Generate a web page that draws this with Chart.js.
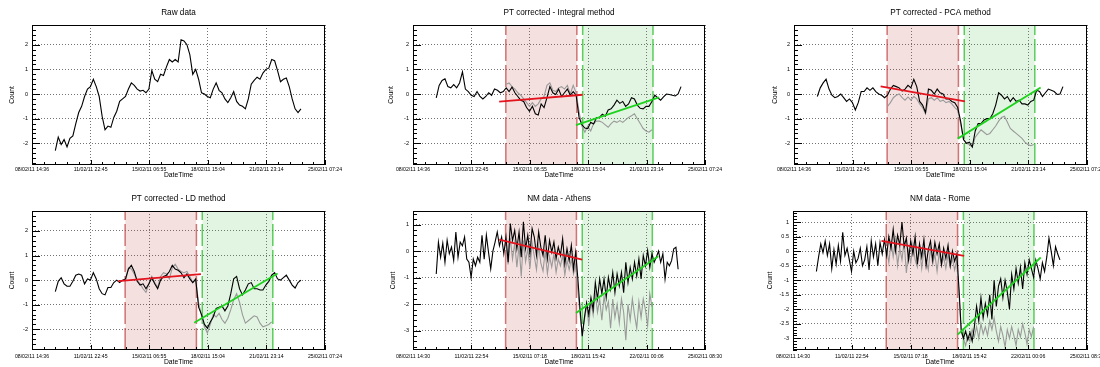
<!DOCTYPE html>
<html>
<head>
<meta charset="utf-8">
<title>Count rate - PT corrections</title>
<script src="https://cdn.jsdelivr.net/npm/chart.js@4.4.0/dist/chart.umd.min.js"></script>
<style>
  html, body { margin: 0; padding: 0; background: #fff; width: 1100px; height: 367px; overflow: hidden; }
  canvas { position: absolute; }
</style>
</head>
<body>
<canvas id="c-raw"></canvas>
<canvas id="c-integral"></canvas>
<canvas id="c-pca"></canvas>
<canvas id="c-ld"></canvas>
<canvas id="c-athens"></canvas>
<canvas id="c-rome"></canvas>
<script>
// times are hours since 08/02/11 00:00
const TICKS_PT = [14.6, 94.76, 174.92, 255.08, 335.24, 415.4];
const TICK_LABELS_PT = ['08/02/11 14:36', '11/02/11 22:45', '15/02/11 06:55', '18/02/11 15:04', '21/02/11 23:14', '25/02/11 07:24'];
const TICKS_NM = [14.5, 94.9, 175.3, 255.7, 336.1, 416.5];
const TICK_LABELS_NM = ['08/02/11 14:30', '11/02/11 22:54', '15/02/11 07:18', '18/02/11 15:42', '22/02/11 00:06', '25/02/11 08:30'];

const Y_TICKS_PT = [-2, -1, 0, 1, 2];
const Y_TICKS_ATHENS = [-3, -2, -1, 0, 1];
const Y_TICKS_ROME = [-3, -2.5, -2, -1.5, -1, -0.5, 0, 0.5, 1];

const Y_RANGE_PT = [-2.88, 2.8];
const Y_RANGE_LD = [-2.84, 2.81];
const Y_RANGE_ATHENS = [-3.72, 1.51];
const Y_RANGE_ROME = [-3.4, 1.38];

// pre-decrease window and recovery window
const PRE_WINDOW = [142, 239.5];
const REC_WINDOW = [247.5, 344];

// sampling of the stored series
const SERIES_START = 46.5;
const GREY_START = 142.5;
const PT_STEP = 4;
const NM_STEP = 3;

const RAW_COUNT = [-2.3, -1.75, -2.05, -1.85, -2.15, -1.8, -1.7, -1.2, -0.75, -0.5, -0.1, 0.2, 0.3, 0.6, 0.3, -0.1,
  -0.9, -1.45, -1.3, -1.35, -0.95, -0.7, -0.3, -0.2, -0.1, 0.2, 0.45, 0.35, 0.2, 0.12, 0.15, 0.05,
  0.2, 0.95, 0.6, 0.5, 0.8, 0.75, 1.1, 1.4, 1.3, 1.4, 1.3, 2.2, 2.15, 2.0, 1.6, 0.8,
  1.0, 0.6, 0.05, 0.0, -0.1, -0.15, 0.2, 0.45, 0.15, 0.05, -0.2, -0.35, -0.15, 0.1, -0.3, -0.45,
  -0.5, -0.6, -0.2, 0.4, 0.55, 0.68, 0.6, 0.85, 1.0, 1.05, 1.4, 1.35, 0.95, 0.5, 0.6, 0.65,
  0.3, -0.2, -0.6, -0.75, -0.6];

const INTEGRAL_COUNT = [-0.16, 0.35, 0.55, 0.62, 0.3, 0.25, 0.38, 0.25, 0.45, 0.9, 0.2, 0.1, -0.05, -0.1, 0.1, -0.1,
  -0.2, -0.1, 0.05, -0.05, 0.2, 0.15, 0.05, 0.1, 0.25, 0.1, 0.28, 0.05, -0.1, -0.25, -0.3, -0.55,
  -0.7, -0.5, -0.8, -0.85, -0.4, -0.55, -0.15, 0.3, 0.05, -0.02, 0.2, -0.1, 0.05, 0.2, -0.05, 0.1,
  -0.05, -0.95, -1.25, -1.38, -1.4, -1.15, -1.22, -0.95, -0.95, -0.82, -0.9, -0.65, -0.6, -0.45, -0.25, -0.38,
  -0.3, -0.5, -0.4, -0.15, -0.2, -0.45, -0.58, -0.6, -0.5, -0.5, -0.3, -0.05, -0.15, -0.25, -0.12, 0.0,
  -0.02, -0.05, -0.08, 0.0, 0.3];
const INTEGRAL_GREY = [0.4, 0.45, 0.3, 0.2, 0.05, -0.05, -0.2, -0.35, -0.5, -0.35, -0.5, -0.4, -0.2, -0.1, 0.35, 0.45,
  0.15, 0.1, 0.25, 0.3, 0.2, 0.35, 0.0, 0.35, 0.05, -0.7, -1.3, -1.55, -1.3, -1.5, -1.2, -1.1,
  -1.1, -1.15, -1.25, -1.35, -1.2, -1.1, -1.15, -1.08, -1.15, -1.05, -0.95, -0.88, -0.8, -1.0, -1.2, -1.4,
  -1.5, -1.55, -1.45];
const INTEGRAL_FIT_PRE = [[132.9, -0.31], [247.4, -0.03]];
const INTEGRAL_FIT_REC = [[238.2, -1.26], [352.5, -0.14]];

const PCA_COUNT = [-0.1, 0.25, 0.45, 0.6, 0.2, -0.05, -0.15, -0.1, 0.0, -0.15, -0.3, -0.2, -0.35, -0.65, -0.35, 0.1,
  0.1, 0.25, 0.15, 0.25, 0.1, 0.0, -0.05, -0.15, -0.05, 0.2, 0.35, 0.3, 0.25, 0.12, 0.2, 0.35,
  0.25, 0.6, 0.3, -0.3, -0.45, -0.75, 0.2, 0.15, 0.0, 0.2, 0.05, 0.0, -0.2, -0.2, -0.3, -0.35,
  -0.55, -1.1, -1.85, -2.0, -1.95, -2.15, -1.5, -1.2, -1.2, -1.05, -1.0, -1.0, -0.8, -0.45, 0.05, -0.05,
  -0.2, -0.1, -0.3, -0.15, -0.3, -0.25, -0.4, -0.4, -0.45, -0.3, -0.25, 0.15, 0.1, -0.1, 0.05, 0.2,
  0.15, 0.1, -0.02, 0.0, 0.3];
const PCA_GREY = [-0.5, -0.35, -0.15, -0.05, 0.0, -0.15, -0.25, -0.12, -0.25, -0.1, -0.2, -0.4, -0.55, -0.8, -0.2, -0.15,
  -0.25, -0.15, -0.3, -0.25, -0.35, -0.3, -0.4, -0.55, -0.65, -1.2, -1.85, -2.0, -2.05, -2.15, -1.75, -1.6,
  -1.45, -1.55, -1.65, -1.6, -1.45, -1.3, -1.1, -0.95, -0.9, -1.15, -1.4, -1.5, -1.6, -1.7, -1.8, -1.95,
  -2.05, -2.1, -2.05];
const PCA_FIT_PRE = [[133.1, 0.31], [248.4, -0.3]];
const PCA_FIT_REC = [[238.5, -1.81], [352, 0.26]];

const LD_COUNT = [-0.47, -0.05, 0.1, -0.15, -0.25, -0.25, -0.05, 0.2, 0.25, 0.2, -0.15, 0.05, 0.0, 0.3, 0.05, -0.35,
  -0.55, -0.6, -0.3, -0.3, -0.1, 0.0, -0.1, 0.0, 0.05, 0.45, 0.6, 0.35, -0.05, -0.2, -0.15, -0.35,
  -0.15, 0.1, -0.15, -0.35, 0.0, 0.15, 0.2, 0.35, 0.6, 0.45, 0.4, 0.3, 0.1, 0.25, 0.05, -0.1,
  0.05, -1.1, -1.4, -1.8, -1.95, -1.7, -1.5, -1.15, -1.1, -1.05, -1.25, -1.05, -0.55, 0.05, 0.15, -0.35,
  -0.6, -0.4, -0.15, -0.1, -0.35, -0.35, -0.4, -0.4, -0.2, -0.05, 0.2, 0.3, 0.05, 0.0, 0.1, 0.2,
  0.0, -0.2, -0.32, -0.1, 0.0];
const LD_GREY = [-0.05, 0.5, 0.45, 0.25, 0.0, -0.15, -0.35, -0.5, -0.15, 0.15, -0.1, -0.3, 0.15, 0.3, 0.25, 0.05,
  0.5, 0.65, 0.45, 0.35, 0.3, 0.35, 0.15, -0.1, 0.0, -0.9, -1.45, -1.9, -2.15, -1.8, -1.4, -1.5,
  -1.35, -1.6, -1.75, -1.55, -1.2, -0.8, -0.55, -0.9, -1.4, -1.75, -1.65, -1.55, -1.45, -1.5, -1.75, -1.9,
  -1.85, -1.8, -1.7];
const LD_FIT_PRE = [[132.6, -0.04], [245.7, 0.24]];
const LD_FIT_REC = [[236.5, -1.73], [350.5, 0.27]];

const ATHENS_COUNT = [-0.86, 0.34, -0.23, 0.3, -0.42, 0.41, -0.1, 0.15, -0.35, 0.72, -0.23, 0.34, 0.2, 0.53, -0.3, -0.42,
  -0.99, -0.3, -0.55, -0.23, -0.42, 0.6, -0.3, 0.6, -0.05, -0.67, 0.0, 0.34, 0.72, 0.2, 0.53, -0.1,
  0.53, -0.42, 1.04, 0.4, 0.78, 0.09, 0.72, -0.23, 1.1, 0.09, 0.6, -0.1, 0.85, 0.53, -0.16, 0.72,
  0.15, -0.16, 0.6, -0.29, 0.4, -0.04, 0.34, -0.29, 0.15, -0.17, 0.47, -0.48, 0.09, -0.36, 0.22, -0.67,
  -0.04, -1.05, -2.2, -3.2, -2.5, -1.95, -2.4, -1.75, -2.2, -1.18, -1.8, -1.05, -1.6, -1.05, -1.75, -0.99,
  -1.44, -0.8, -1.56, -0.86, -1.31, -0.8, -1.56, -0.42, -1.18, -0.61, -1.05, -0.42, -0.93, -0.29, -1.05, -0.16,
  -0.55, 0.03, -0.61, -0.1, -0.42, -0.23, 0.0, -0.42, -0.1, -1.05, -0.42, -0.55, -0.36, 0.09, 0.15, -0.68];
const ATHENS_GREY = [0.2, -0.5, 0.5, -0.3, 0.3, -0.6, 0.2, -0.95, 0.4, -0.4, 0.1, -0.65, 0.3, -0.2, -0.7, 0.2,
  -0.45, -0.75, 0.0, -0.85, -0.2, -0.6, -0.1, -0.8, -0.3, -0.55, -0.15, -0.9, -0.35, -0.7, -0.3, -0.85,
  -0.5, -1.5, -2.4, -3.1, -2.6, -2.0, -2.8, -1.9, -2.4, -1.6, -2.3, -1.8, -2.6, -1.7, -2.2, -1.9,
  -2.9, -1.8, -2.5, -2.0, -2.7, -1.8, -2.3, -3.35, -2.0, -2.6, -1.8, -2.4, -2.9, -1.9, -2.5, -1.8,
  -2.2, -2.8, -1.6, -2.1];
const ATHENS_FIT_PRE = [[133.3, 0.43], [247.5, -0.32]];
const ATHENS_FIT_REC = [[238.9, -2.33], [352.2, -0.19]];

const ROME_COUNT = [-0.7, -0.2, 0.25, -0.05, 0.35, -0.15, 0.25, -0.6, 0.05, -0.45, 0.2, -0.35, 0.65, -0.15, 0.1, -0.3,
  -0.7, 0.0, -0.4, -0.25, 0.1, -0.5, -0.3, 0.15, -0.65, 0.35, -0.2, 0.25, -0.5, 0.3, -0.1, 0.4,
  -0.15, 0.5, 0.1, 0.75, 0.0, 0.55, 0.2, 1.0, 0.15, 0.45, -0.3, 0.35, -0.1, 0.5, -0.45, 0.25,
  -0.2, 0.4, -0.5, 0.05, 0.35, -0.3, 0.3, -0.1, 0.25, -0.45, 0.1, -0.25, 0.2, -0.5, 0.0, -0.35,
  -0.1, -1.3, -2.7, -3.0, -2.75, -3.05, -2.8, -3.1, -2.6, -1.9, -2.4, -1.6, -2.3, -1.8, -2.2, -1.5,
  -2.35, -1.0, -1.9, -1.2, -0.95, -1.6, -1.0, -1.4, -2.0, -0.8, -1.3, -0.6, -1.1, -0.55, -1.3, -0.4,
  -0.8, -0.3, -0.6, -0.9, -0.3, -0.6, -0.95, -0.4, -0.7, -0.2, 0.45, 0.0, -0.5, 0.15, -0.1, -0.3];
const ROME_GREY = [0.1, -0.4, 0.3, -0.2, 0.4, -0.5, 0.1, -0.3, 0.35, -0.75, 0.0, -0.4, 0.25, -0.3, -0.55, 0.1,
  -0.6, 0.05, -0.3, -0.65, 0.1, -0.45, -0.1, -0.7, -0.05, -0.5, -0.2, -0.6, -0.1, -0.55, -0.25, -0.65,
  -0.3, -1.5, -2.8, -3.0, -3.25, -2.9, -3.1, -2.7, -2.95, -2.6, -3.0, -2.5, -2.85, -2.6, -2.9, -2.4,
  -2.7, -2.3, -2.75, -3.1, -2.6, -2.9, -3.3, -2.7, -3.0, -2.6, -2.9, -3.25, -2.7, -2.95, -2.5, -2.8,
  -3.2, -2.7, -2.95, -2.6];
const ROME_FIT_PRE = [[135.5, 0.35], [248.5, -0.16]];
const ROME_FIT_REC = [[239.5, -2.87], [353.2, -0.22]];

// ---- styling ----
const FONT = "'Liberation Sans', Arial, Helvetica, sans-serif";
const GRID_COLOR = 'rgba(0, 0, 0, 0.55)';
const PRE_FILL = 'rgba(190, 60, 60, 0.16)';
const REC_FILL = 'rgba(60, 190, 60, 0.15)';
const PRE_EDGE = 'rgba(190, 60, 60, 0.7)';
const REC_EDGE = 'rgba(40, 190, 40, 0.75)';
const PRE_FIT_COLOR = '#e3141e';
const REC_FIT_COLOR = '#1ed21e';
const GREY_COLOR = '#9a9a9a';

// space around each plot frame inside its canvas
const LEFT_W = 32, TOP_H = 25, BOTTOM_H = 18, RIGHT_W = 42;

Chart.defaults.font.family = FONT;

const PANELS = [
  { id: 'c-raw', title: 'Raw data', area: { x: 32, y: 25, w: 293, h: 140 }, countGap: 20.3, row: 0,
    ticks: TICKS_PT, labels: TICK_LABELS_PT, yTicks: Y_TICKS_PT, yRange: Y_RANGE_PT, step: PT_STEP, count: RAW_COUNT },
  { id: 'c-integral', title: 'PT corrected - Integral method', area: { x: 413, y: 25, w: 292, h: 140 }, countGap: 22.3, row: 0,
    ticks: TICKS_PT, labels: TICK_LABELS_PT, yTicks: Y_TICKS_PT, yRange: Y_RANGE_PT, step: PT_STEP,
    count: INTEGRAL_COUNT, grey: INTEGRAL_GREY, fitPre: INTEGRAL_FIT_PRE, fitRec: INTEGRAL_FIT_REC },
  { id: 'c-pca', title: 'PT corrected - PCA method', area: { x: 794, y: 25, w: 293, h: 140 }, countGap: 19, row: 0,
    ticks: TICKS_PT, labels: TICK_LABELS_PT, yTicks: Y_TICKS_PT, yRange: Y_RANGE_PT, step: PT_STEP,
    count: PCA_COUNT, grey: PCA_GREY, fitPre: PCA_FIT_PRE, fitRec: PCA_FIT_REC },
  { id: 'c-ld', title: 'PT corrected - LD method', area: { x: 32, y: 211, w: 293, h: 139 }, countGap: 20.3, row: 1,
    ticks: TICKS_PT, labels: TICK_LABELS_PT, yTicks: Y_TICKS_PT, yRange: Y_RANGE_LD, step: PT_STEP,
    count: LD_COUNT, grey: LD_GREY, fitPre: LD_FIT_PRE, fitRec: LD_FIT_REC },
  { id: 'c-athens', title: 'NM data - Athens', area: { x: 413, y: 211, w: 292, h: 139 }, countGap: 20.3, row: 1,
    ticks: TICKS_NM, labels: TICK_LABELS_NM, yTicks: Y_TICKS_ATHENS, yRange: Y_RANGE_ATHENS, step: NM_STEP,
    count: ATHENS_COUNT, grey: ATHENS_GREY, fitPre: ATHENS_FIT_PRE, fitRec: ATHENS_FIT_REC },
  { id: 'c-rome', title: 'NM data - Rome', area: { x: 793, y: 211, w: 294, h: 139 }, countGap: 23, row: 1,
    ticks: TICKS_NM, labels: TICK_LABELS_NM, yTicks: Y_TICKS_ROME, yRange: Y_RANGE_ROME, step: NM_STEP,
    count: ROME_COUNT, grey: ROME_GREY, fitPre: ROME_FIT_PRE, fitRec: ROME_FIT_REC }
];

function series(start, step, values) {
  return values.map((v, i) => ({ x: start + i * step, y: v }));
}

function pairs(list) {
  return list.map(([x, y]) => ({ x, y }));
}

// major + minor (5 subdivisions) tick positions within [min, max]
function tickMarks(majors, min, max) {
  const sub = (majors[1] - majors[0]) / 5;
  const i0 = Math.ceil((min - majors[0]) / sub - 1e-6);
  const i1 = Math.floor((max - majors[0]) / sub + 1e-6);
  const out = [];
  for (let i = i0; i <= i1; i++) {
    out.push([majors[0] + i * sub, ((i % 5) + 5) % 5 === 0]);
  }
  return out;
}

// ROOT style frame with ticks pointing into the plot
const frameTicks = {
  id: 'frameTicks',
  afterDraw(chart) {
    const { ctx, chartArea: a, scales: { x, y } } = chart;
    ctx.save();
    ctx.strokeStyle = '#000';
    ctx.lineWidth = 1;
    ctx.beginPath();
    tickMarks(y.ticks.map(t => t.value), y.min, y.max).forEach(([v, major]) => {
      const py = Math.round(y.getPixelForValue(v)) + 0.5;
      ctx.moveTo(a.left, py);
      ctx.lineTo(a.left + (major ? 8 : 4), py);
    });
    tickMarks(x.ticks.map(t => t.value), x.min, x.max).forEach(([v, major]) => {
      const px = Math.round(x.getPixelForValue(v)) + 0.5;
      ctx.moveTo(px, a.bottom);
      ctx.lineTo(px, a.bottom - (major ? 5 : 3));
    });
    ctx.stroke();
    ctx.strokeRect(Math.round(a.left) + 0.5, Math.round(a.top) + 0.5, Math.round(a.width) - 1, Math.round(a.height) - 1);
    ctx.restore();
  }
};

function buildDatasets(p) {
  const [yMin, yMax] = p.yRange;
  const sets = [];
  const line = { pointRadius: 0, tension: 0, fill: false };
  if (p.grey) {
    [[PRE_WINDOW, PRE_FILL, PRE_EDGE], [REC_WINDOW, REC_FILL, REC_EDGE]].forEach(([win, fill, edge]) => {
      sets.push({ ...line, data: win.map(x => ({ x, y: yMax })), fill: 'start', backgroundColor: fill, borderWidth: 0, order: 6 });
      win.forEach(x => {
        sets.push({ ...line, data: [{ x, y: yMin }, { x, y: yMax }], borderColor: edge, borderWidth: 1.5, borderDash: [22, 4], order: 5 });
      });
    });
    sets.push({ ...line, data: series(GREY_START, p.step, p.grey), borderColor: GREY_COLOR, borderWidth: 1.1, order: 3 });
  }
  sets.push({ ...line, data: series(SERIES_START, p.step, p.count), borderColor: '#000', borderWidth: 1.1, order: 2 });
  if (p.fitPre) {
    sets.push({ ...line, data: pairs(p.fitPre), borderColor: PRE_FIT_COLOR, borderWidth: 1.8, order: 1 });
    sets.push({ ...line, data: pairs(p.fitRec), borderColor: REC_FIT_COLOR, borderWidth: 1.8, order: 1 });
  }
  return sets;
}

function makeChart(p) {
  const canvas = document.getElementById(p.id);
  canvas.width = LEFT_W + p.area.w + RIGHT_W;
  canvas.height = TOP_H + p.area.h + BOTTOM_H;
  canvas.style.left = (p.area.x - LEFT_W) + 'px';
  canvas.style.top = (p.area.y - TOP_H) + 'px';

  const titleSize = 8.2;
  const titleLine = titleSize * 1.2;
  const labelPad = p.row === 0 ? 1 : 3;
  const xTitlePad = p.row === 0 ? 3.6 : 1.6;

  return new Chart(canvas, {
    type: 'line',
    data: { datasets: buildDatasets(p) },
    options: {
      responsive: false,
      animation: false,
      devicePixelRatio: 1,
      events: [],
      layout: { padding: { left: 0, top: 0, right: RIGHT_W, bottom: 0 } },
      plugins: {
        legend: { display: false },
        tooltip: { enabled: false },
        title: {
          display: true,
          text: p.title,
          fullSize: false,
          color: '#000',
          font: { size: titleSize, weight: 'normal' },
          padding: { top: 7.6, bottom: TOP_H - 7.6 - titleLine }
        }
      },
      scales: {
        x: {
          type: 'linear',
          bounds: 'data',
          min: p.ticks[0],
          max: p.ticks[p.ticks.length - 1],
          afterBuildTicks: s => { s.ticks = p.ticks.map(v => ({ value: v })); },
          afterFit: s => { s.height = BOTTOM_H; },
          ticks: {
            autoSkip: false,
            maxRotation: 0,
            padding: labelPad,
            color: '#000',
            font: { size: 5.2 },
            callback: (v, i) => p.labels[i]
          },
          grid: { color: GRID_COLOR, lineWidth: 1, drawTicks: false },
          border: { display: false, dash: [1, 2] },
          title: { display: true, text: 'DateTime', color: '#000', font: { size: 6.8 }, padding: { top: 0, bottom: xTitlePad } }
        },
        y: {
          type: 'linear',
          bounds: 'data',
          min: p.yRange[0],
          max: p.yRange[1],
          afterBuildTicks: s => { s.ticks = p.yTicks.map(v => ({ value: v })); },
          afterFit: s => { s.width = LEFT_W; },
          ticks: {
            padding: 4,
            color: '#000',
            font: { size: 5.5 },
            callback: v => String(v)
          },
          grid: { color: GRID_COLOR, lineWidth: 1, drawTicks: false },
          border: { display: false, dash: [1, 2] },
          title: {
            display: true,
            text: 'Count',
            color: '#000',
            font: { size: 6.6 },
            padding: { top: LEFT_W - p.countGap - 3.96, bottom: 0 }
          }
        }
      }
    },
    plugins: [frameTicks]
  });
}

PANELS.forEach(makeChart);
</script>
</body>
</html>
